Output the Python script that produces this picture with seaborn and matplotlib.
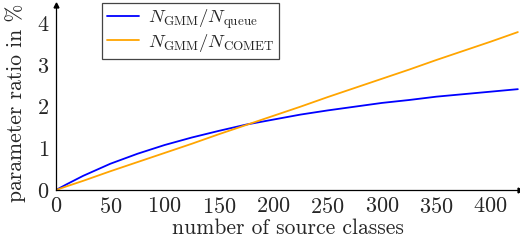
import matplotlib
matplotlib.use("Agg")
import matplotlib.pyplot as plt
import seaborn as sns
import pandas as pd

# values
classes = [0, 10, 25, 50, 75, 100, 125, 150, 175, 200, 225, 250, 275, 300, 325, 350, 375, 400, 425]
ratio_queue = [0.0, 0.14, 0.34, 0.63, 0.87, 1.08, 1.26, 1.42, 1.57, 1.69, 1.81, 1.91, 2.00, 2.09, 2.16, 2.24, 2.30, 2.36, 2.42]
ratio_comet = [0.0, 0.09, 0.22, 0.45, 0.67, 0.89, 1.11, 1.34, 1.56, 1.78, 2.00, 2.23, 2.45, 2.67, 2.89, 3.12, 3.34, 3.56, 3.79]

label_queue = r"$N_{\mathrm{GMM}}/N_{\mathrm{queue}}$"
label_comet = r"$N_{\mathrm{GMM}}/N_{\mathrm{COMET}}$"

df = pd.DataFrame({
    "classes": classes * 2,
    "ratio": ratio_queue + ratio_comet,
    "series": [label_queue] * len(classes) + [label_comet] * len(classes),
})

sns.set_style("white")
plt.rcParams["font.family"] = ["cmr10", "DejaVu Serif"]
plt.rcParams["mathtext.fontset"] = "cm"
plt.rcParams["axes.formatter.use_mathtext"] = True

fig = plt.figure(figsize=(5.2, 2.42), dpi=100)
ax = fig.add_axes([56 / 520, 52 / 242, 464 / 520, 185 / 242])

sns.lineplot(data=df, x="classes", y="ratio", hue="series",
             palette={label_queue: "#0000ff", label_comet: "#ffa500"},
             linewidth=1.3, ax=ax)

ax.set_xlim(0, 427)
ax.set_ylim(0, 4.44)
ax.set_xticks(range(0, 401, 50))
ax.set_yticks(range(0, 5))
ax.tick_params(direction="in", length=5, width=0.8, color="#bbbbbb",
               labelsize=16)
ax.tick_params(axis="x", pad=5)
ax.tick_params(axis="y", pad=5)
ax.spines["top"].set_visible(False)
ax.spines["right"].set_visible(False)
for s in ("left", "bottom"):
    ax.spines[s].set_color("black")
    ax.spines[s].set_linewidth(0.9)
# arrow tips like pgfplots axis lines
ax.plot(1, 0, ">k", markersize=3.5, transform=ax.transAxes, clip_on=False)
ax.plot(0, 1, "^k", markersize=3.5, transform=ax.transAxes, clip_on=False)

ax.set_xlabel("number of source classes", fontsize=15.5, labelpad=1)
ax.set_ylabel("parameter ratio in %", fontsize=15.5)
ax.yaxis.set_label_coords(-0.065, 0.47)

leg = ax.legend(loc="upper left", bbox_to_anchor=(102 / 520, 1 - 3 / 242),
                bbox_transform=fig.transFigure, borderaxespad=0,
                fontsize=13.5, frameon=True,
                fancybox=False, edgecolor="#444444", framealpha=1,
                handlelength=1.7, borderpad=0.25, labelspacing=0.05,
                handletextpad=0.5)
leg.get_frame().set_linewidth(0.9)

fig.savefig("out.png", dpi=100)
